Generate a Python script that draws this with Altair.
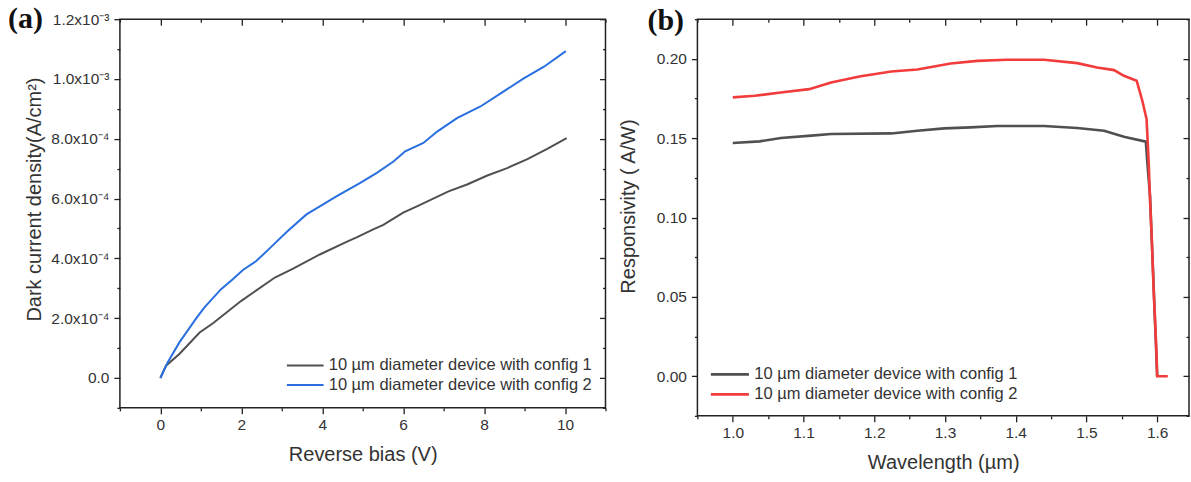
import altair as alt
import pandas as pd

# ---------------- (a) dark current density vs reverse bias ----------------
SERIES = ["10 µm diameter device with config 1", "10 µm diameter device with config 2"]

bias_cfg1 = [0.0, 0.14, 0.47, 0.97, 1.30, 2.00, 2.83, 3.28, 3.94, 4.60, 4.85, 5.26, 5.51,
             6.00, 6.34, 7.12, 7.58, 8.08, 8.57, 9.07, 9.56, 10.04]
jd_cfg1 = [0.0, 0.41e-4, 0.80e-4, 1.52e-4, 1.83e-4, 2.58e-4, 3.36e-4, 3.66e-4, 4.13e-4,
           4.55e-4, 4.70e-4, 4.97e-4, 5.12e-4, 5.53e-4, 5.74e-4, 6.24e-4, 6.47e-4, 6.77e-4,
           7.02e-4, 7.32e-4, 7.66e-4, 8.02e-4]

bias_cfg2 = [0.0, 0.18, 0.47, 0.885, 1.09, 1.50, 1.79, 2.04, 2.37, 2.72, 3.12, 3.61, 3.94,
             4.36, 4.93, 5.35, 5.76, 6.05, 6.50, 6.84, 7.33, 7.91, 8.41, 8.98, 9.48, 10.02]
jd_cfg2 = [0.0, 0.52e-4, 1.19e-4, 1.99e-4, 2.36e-4, 2.97e-4, 3.30e-4, 3.61e-4, 3.91e-4,
           4.36e-4, 4.88e-4, 5.47e-4, 5.74e-4, 6.08e-4, 6.52e-4, 6.86e-4, 7.24e-4, 7.58e-4,
           7.86e-4, 8.24e-4, 8.69e-4, 9.08e-4, 9.52e-4, 10.02e-4, 10.41e-4, 10.93e-4]

a_x_major = [0, 2, 4, 6, 8, 10]
a_x_minor = [-1, 1, 3, 5, 7, 9, 11]
a_y_major = [0.0, 2e-4, 4e-4, 6e-4, 8e-4, 1.0e-3, 1.2e-3]
a_y_major_text = ["0.0", "2.0x10⁻⁴", "4.0x10⁻⁴", "6.0x10⁻⁴", "8.0x10⁻⁴", "1.0x10⁻³", "1.2x10⁻³"]
a_y_minor = [-1e-4, 1e-4, 3e-4, 5e-4, 7e-4, 9e-4, 11e-4]

# ---------------- (b) responsivity vs wavelength ----------------
wl_cfg1 = [1.000, 1.038, 1.068, 1.111, 1.139, 1.224, 1.261, 1.299, 1.336, 1.374, 1.440,
           1.487, 1.525, 1.553, 1.584, 1.586, 1.590, 1.592, 1.594, 1.596, 1.598, 1.600]
resp_cfg1 = [0.1470, 0.1480, 0.1501, 0.1516, 0.1526, 0.1530, 0.1547, 0.1562, 0.1568, 0.1577,
             0.1577, 0.1564, 0.1547, 0.1509, 0.1478, 0.135, 0.113, 0.090, 0.068, 0.045,
             0.023, 0.000]

wl_cfg2 = [1.000, 1.031, 1.068, 1.108, 1.139, 1.179, 1.224, 1.261, 1.308, 1.346, 1.388,
           1.440, 1.487, 1.515, 1.539, 1.553, 1.571, 1.579, 1.585, 1.588, 1.590, 1.5925,
           1.595, 1.597, 1.599, 1.600, 1.615]
resp_cfg2 = [0.1757, 0.1767, 0.1788, 0.1809, 0.1851, 0.1889, 0.1920, 0.1933, 0.1971, 0.1987,
             0.1994, 0.1994, 0.1973, 0.1945, 0.1929, 0.1893, 0.1862, 0.1736, 0.1621, 0.135,
             0.110, 0.085, 0.055, 0.035, 0.015, 0.000, 0.000]

b_x_major = [1.0, 1.1, 1.2, 1.3, 1.4, 1.5, 1.6]
b_x_minor = [0.95, 1.05, 1.15, 1.25, 1.35, 1.45, 1.55]
b_y_major = [0.0, 0.05, 0.10, 0.15, 0.20]
b_y_minor = [-0.025, 0.025, 0.075, 0.125, 0.175, 0.225]

FONT = "Liberation Sans"
INK = "#333333"
TICK = "#222222"


def long_table(xs1, ys1, xs2, ys2):
    rows = [{"x": x, "y": y, "series": SERIES[0]} for x, y in zip(xs1, ys1)]
    rows += [{"x": x, "y": y, "series": SERIES[1]} for x, y in zip(xs2, ys2)]
    return pd.DataFrame(rows)


def label_expr(values, texts, factor):
    expr = "''"
    for v, t in reversed(list(zip(values, texts))):
        expr = f"round(datum.value*{factor})=={round(v * factor)} ? '{t}' : ({expr})"
    return expr


def panel(df, xscale, yscale, xmaj, xmin, ymaj, ymin, x_title, y_title,
          x_fmt, y_fmt, y_expr, colors, line_w, leg_orient, leg_offset, sym_size,
          row_pad, tag, tag_x, tag_y, width, height, y_title_pad, y_title_pos):
    x_main = alt.Axis(orient="bottom", values=xmaj, tickSize=6, labelPadding=4,
                      title=x_title, titlePadding=11, format=x_fmt, labelFlush=False)
    y_kw = dict(orient="left", values=ymaj, tickSize=6, labelPadding=5, title=y_title,
                titlePadding=y_title_pad, titleY=y_title_pos)
    if y_expr:
        y_kw["labelExpr"] = y_expr
    else:
        y_kw["format"] = y_fmt
    y_main = alt.Axis(**y_kw)

    lines = alt.Chart(df).mark_line(strokeWidth=line_w).encode(
        x=alt.X("x:Q", scale=xscale, axis=x_main),
        y=alt.Y("y:Q", scale=yscale, axis=y_main),
        color=alt.Color(
            "series:N",
            scale=alt.Scale(domain=SERIES, range=colors),
            legend=alt.Legend(
                title=None, orient=leg_orient, offset=leg_offset, symbolType="stroke",
                symbolSize=sym_size, symbolStrokeWidth=line_w, labelFontSize=16.5,
                labelFont=FONT, labelColor=INK, labelLimit=400, clipHeight=19,
                rowPadding=row_pad, labelOffset=4,
            ),
        ),
    )

    ghost = alt.Chart(df).mark_line(opacity=0)

    def tick_axis(orient, values, size, offset=0):
        return alt.Axis(orient=orient, values=values, tickSize=size, offset=offset,
                        labels=False, title=None, domain=False)

    minor_bl = ghost.encode(
        x=alt.X("x:Q", scale=xscale, axis=tick_axis("bottom", xmin, 3)),
        y=alt.Y("y:Q", scale=yscale, axis=tick_axis("left", ymin, 3)),
    )
    major_tr = ghost.encode(
        x=alt.X("x:Q", scale=xscale, axis=tick_axis("top", xmaj, 6, -6)),
        y=alt.Y("y:Q", scale=yscale, axis=tick_axis("right", ymaj, 6, -6)),
    )
    minor_tr = ghost.encode(
        x=alt.X("x:Q", scale=xscale, axis=tick_axis("top", xmin, 3, -3)),
        y=alt.Y("y:Q", scale=yscale, axis=tick_axis("right", ymin, 3, -3)),
    )
    tag_mark = alt.Chart(pd.DataFrame({"tag": [tag]})).mark_text(
        font="Liberation Serif", fontWeight="bold", fontSize=30, color="#111111",
        align="left", baseline="alphabetic",
    ).encode(x=alt.value(tag_x), y=alt.value(tag_y), text="tag:N")

    return (
        alt.layer(lines, minor_bl, major_tr, minor_tr, tag_mark)
        .resolve_axis(x="independent", y="independent")
        .properties(width=width, height=height)
    )


df_a = long_table(bias_cfg1, jd_cfg1, bias_cfg2, jd_cfg2)
df_b = long_table(wl_cfg1, resp_cfg1, wl_cfg2, resp_cfg2)

chart_a = panel(
    df_a,
    alt.Scale(domain=[-1, 11], nice=False, zero=False),
    alt.Scale(domain=[-1e-4, 1.2e-3], nice=False, zero=False),
    a_x_major, a_x_minor, a_y_major, a_y_minor,
    "Reverse bias (V)", "Dark current density(A/cm²)",
    "d", None, label_expr(a_y_major, a_y_major_text, 1e5),
    ["#505050", "#2a6fe0"], 2.0, "bottom-right", 13, 1350, 0.5,
    "(a)", -112, 9, 486, 389, 6, 180,
)

chart_b = panel(
    df_b,
    alt.Scale(domain=[0.95, 1.645], nice=False, zero=False),
    alt.Scale(domain=[-0.025, 0.225], nice=False, zero=False),
    b_x_major, b_x_minor, b_y_major, b_y_minor,
    "Wavelength (µm)", "Responsivity ( A/W)",
    ".1f", ".2f", None,
    ["#505050", "#f23c3c"], 2.6, "bottom-left", 12, 1450, 1,
    "(b)", -50, 11, 492, 397, 18, 187,
)

chart = (
    alt.hconcat(chart_a, chart_b, spacing=10)
    .resolve_scale(color="independent")
    .properties(padding={"left": 7, "top": 3, "right": 0, "bottom": 0}, background="white")
    .configure_view(stroke=TICK, strokeWidth=1.5)
    .configure_axis(
        grid=False, domain=False, tickColor=TICK, tickWidth=1.3,
        labelFont=FONT, labelColor=INK, labelFontSize=15.5,
        titleFont=FONT, titleColor=INK, titleFontSize=20, titleFontWeight="normal",
    )
)

chart.save("out.html", embed_options={"renderer": "svg", "actions": False})
